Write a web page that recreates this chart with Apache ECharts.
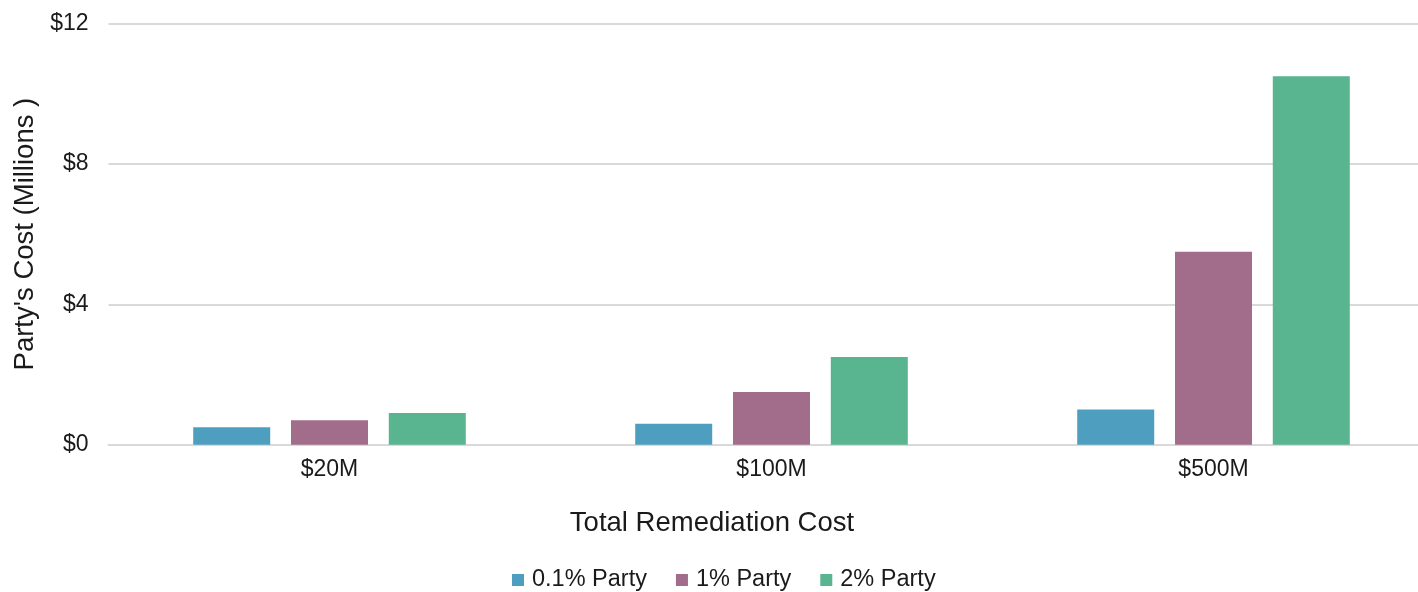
<!DOCTYPE html>
<html>
<head>
<meta charset="utf-8">
<script src="https://cdn.jsdelivr.net/npm/echarts@6/dist/echarts.min.js"></script>
<style>
html,body{margin:0;padding:0;background:#fff;overflow:hidden;}
#chart{width:1436px;height:592px;}
</style>
</head>
<body>
<div id="chart"></div>
<script>
const categories = ['$20M', '$100M', '$500M'];
const seriesNames = ['0.1% Party', '1% Party', '2% Party'];
const party01 = [0.5, 0.6, 1.0];
const party1 = [0.7, 1.5, 5.5];
const party2 = [0.9, 2.5, 10.5];
const yTicks = [0, 4, 8, 12];
const colors = ['#4E9FBF', '#A16D8A', '#59B58F'];

const FONT = '"Liberation Sans", Arial, sans-serif';
const chart = echarts.init(document.getElementById('chart'));
const values = [party01, party1, party2];

chart.setOption({
  animation: false,
  color: colors,
  textStyle: { fontFamily: FONT, color: '#1a1a1a' },
  grid: { left: 108.5, right: 1.5, top: 23.5, bottom: 147.3, containLabel: false },
  xAxis: {
    type: 'category',
    data: categories,
    axisLine: { lineStyle: { color: '#d9d9d9', width: 2 } },
    axisTick: { show: false },
    axisLabel: { fontSize: 23, color: '#1a1a1a', fontFamily: FONT, margin: 13 }
  },
  yAxis: {
    type: 'value',
    min: yTicks[0],
    max: yTicks[yTicks.length - 1],
    interval: 4,
    name: "Party's Cost (Millions )",
    nameLocation: 'middle',
    nameGap: 63,
    nameTextStyle: { fontSize: 27.5, color: '#1a1a1a', fontFamily: FONT },
    axisLine: { show: false },
    axisTick: { show: false },
    splitLine: { lineStyle: { color: '#d9d9d9', width: 2 } },
    axisLabel: {
      fontSize: 23, color: '#1a1a1a', fontFamily: FONT, margin: 20,
      formatter: v => '$' + v
    }
  },
  legend: {
    left: 512,
    top: 568,
    padding: 0,
    itemWidth: 12,
    itemHeight: 12,
    itemGap: 29,
    icon: 'rect',
    textStyle: { fontSize: 23.5, color: '#1a1a1a', fontFamily: FONT, padding: [0, 0, 0, 3] },
    data: seriesNames
  },
  graphic: [{
    type: 'text',
    x: 712, y: 523,
    style: {
      text: 'Total Remediation Cost',
      x: 0, y: 0,
      align: 'center', verticalAlign: 'middle',
      fontSize: 27.5, fontFamily: FONT, fill: '#1a1a1a'
    }
  }],
  series: seriesNames.map((n, i) => ({
    name: n,
    type: 'bar',
    data: values[i],
    barWidth: 77,
    barGap: '27%',
    itemStyle: { color: colors[i] }
  }))
});
</script>
</body>
</html>
